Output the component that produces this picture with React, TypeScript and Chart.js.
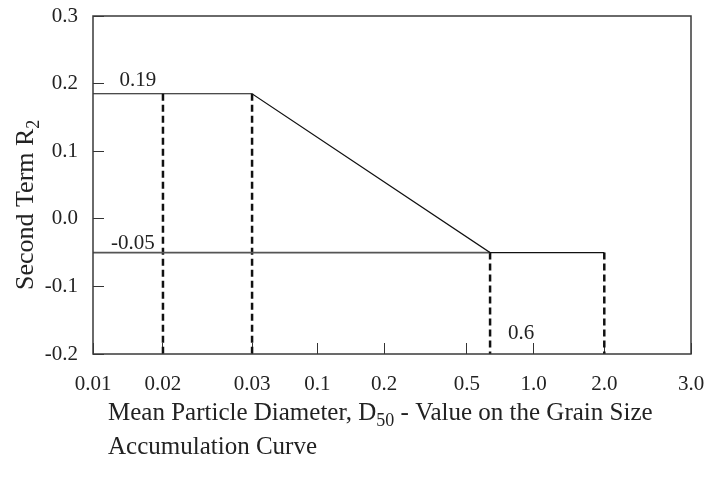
import React, { useEffect, useRef } from 'react';
import { Chart, registerables } from 'chart.js';

Chart.register(...registerables);

// Axis anchors: diameter values and their place along the (irregular) x axis, 0..100
const xStops = [0.01, 0.02, 0.03, 0.1, 0.2, 0.5, 0.6, 1.0, 2.0, 3.0];
const xStopPos = [0, 11.7, 26.6, 37.5, 48.7, 62.5, 66.4, 73.7, 85.5, 100];
const xTickValues = [0.01, 0.02, 0.03, 0.1, 0.2, 0.5, 1.0, 2.0, 3.0];
const xTickLabels = ['0.01', '0.02', '0.03', '0.1', '0.2', '0.5', '1.0', '2.0', '3.0'];
const yTickValues = [-0.2, -0.1, 0, 0.1, 0.2, 0.3];
const yTickLabels = ['-0.2', '-0.1', '0.0', '0.1', '0.2', '0.3'];

// Main curve R2 vs D50
const curveD = [0.01, 0.03, 0.6, 2.0];
const curveR = [0.185, 0.185, -0.05, -0.05];
// Reference line at -0.05
const baseD = [0.01, 0.6];
const baseR = [-0.05, -0.05];
// Dashed drop lines
const dropD = [0.02, 0.03, 0.6, 2.0];
const dropTop = [0.185, 0.185, -0.05, -0.05];
const dropBottom = -0.2;
// Value annotations
const noteText = ['0.19', '-0.05', '0.6'];
const noteD = [0.0164, 0.0157, 0.885];
const noteR = [0.205, -0.036, -0.169];

const FONT = "'Liberation Serif', 'Times New Roman', serif";
const TEXT = '#222';

function toAxis(d: number): number {
  for (let i = 0; i < xStops.length - 1; i++) {
    if (d >= xStops[i] && d <= xStops[i + 1]) {
      const t = (d - xStops[i]) / (xStops[i + 1] - xStops[i]);
      return xStopPos[i] + t * (xStopPos[i + 1] - xStopPos[i]);
    }
  }
  return d < xStops[0] ? xStopPos[0] : xStopPos[xStopPos.length - 1];
}

const extrasPlugin = {
  id: 'extras',
  afterDatasetsDraw(chart: any) {
    const { ctx, chartArea: a, scales } = chart;
    const xs = scales.x;
    const ys = scales.y;
    ctx.save();
    // frame
    ctx.strokeStyle = '#3a3a3a';
    ctx.lineWidth = 1.5;
    ctx.strokeRect(a.left, a.top, a.right - a.left, a.bottom - a.top);
    // annotations
    ctx.fillStyle = TEXT;
    ctx.font = `21px ${FONT}`;
    ctx.textAlign = 'center';
    ctx.textBaseline = 'middle';
    noteText.forEach((t, i) => {
      ctx.fillText(t, xs.getPixelForValue(toAxis(noteD[i])), ys.getPixelForValue(noteR[i]));
    });
    // x title
    ctx.textAlign = 'left';
    ctx.textBaseline = 'alphabetic';
    let x = 108;
    const y1 = 420;
    ctx.font = `25px ${FONT}`;
    const p1 = 'Mean Particle Diameter, D';
    ctx.fillText(p1, x, y1);
    x += ctx.measureText(p1).width;
    ctx.font = `18px ${FONT}`;
    ctx.fillText('50', x, y1 + 6);
    x += ctx.measureText('50').width;
    ctx.font = `25px ${FONT}`;
    ctx.fillText(' - Value on the Grain Size', x, y1);
    ctx.fillText('Accumulation Curve', 108, y1 + 34);
    // y title
    ctx.translate(33, 290);
    ctx.rotate(-Math.PI / 2);
    ctx.font = `26px ${FONT}`;
    const q = 'Second Term R';
    ctx.fillText(q, 0, 0);
    const w = ctx.measureText(q).width;
    ctx.font = `18px ${FONT}`;
    ctx.fillText('2', w, 6);
    ctx.restore();
  },
};

export default function App() {
  const ref = useRef<HTMLCanvasElement | null>(null);
  useEffect(() => {
    if (!ref.current) return;
    const pts = (ds: number[], rs: number[]) => ds.map((d, i) => ({ x: toAxis(d), y: rs[i] }));
    const datasets: any[] = [
      {
        label: 'R2',
        data: pts(curveD, curveR),
        borderColor: '#111',
        borderWidth: 1.2,
      },
      {
        label: 'base',
        data: pts(baseD, baseR),
        borderColor: '#555',
        borderWidth: 1.6,
      },
      ...dropD.map((d, i) => ({
        label: 'drop' + i,
        data: pts([d, d], [dropTop[i], dropBottom]),
        borderColor: '#111',
        borderWidth: 2.5,
        borderDash: [7, 4],
      })),
    ].map((ds) => ({ ...ds, showLine: true, pointRadius: 0, fill: false, tension: 0 }));

    const zeroPad = (s: any) => {
      s.paddingTop = 0;
      s.paddingBottom = 0;
      s.paddingLeft = 0;
      s.paddingRight = 0;
    };

    const chart = new Chart(ref.current, {
      type: 'scatter',
      data: { datasets },
      options: {
        animation: false,
        responsive: false,
        layout: { padding: { left: 0, top: 16, right: 15, bottom: 0 } },
        plugins: { legend: { display: false }, tooltip: { enabled: false }, title: { display: false } },
        scales: {
          x: {
            type: 'linear',
            min: 0,
            max: 100,
            afterBuildTicks: (s: any) => {
              s.ticks = xTickValues.map((v) => ({ value: toAxis(v) }));
            },
            afterFit: (s: any) => {
              s.height = 134;
              zeroPad(s);
            },
            ticks: {
              autoSkip: false,
              maxRotation: 0,
              padding: 29,
              color: TEXT,
              font: { family: FONT, size: 21 },
              callback: (_v: any, i: number) => xTickLabels[i],
            },
            grid: { drawOnChartArea: false, drawTicks: true, tickLength: -11, color: '#333', lineWidth: 1 },
            border: { display: false },
          },
          y: {
            type: 'linear',
            min: -0.2,
            max: 0.3,
            afterBuildTicks: (s: any) => {
              s.ticks = yTickValues.map((v) => ({ value: v }));
            },
            afterFit: (s: any) => {
              s.width = 93;
              zeroPad(s);
            },
            ticks: {
              autoSkip: false,
              padding: 26,
              color: TEXT,
              font: { family: FONT, size: 21 },
              callback: (_v: any, i: number) => yTickLabels[i],
            },
            grid: { drawOnChartArea: false, drawTicks: true, tickLength: -11, color: '#333', lineWidth: 1 },
            border: { display: false },
          },
        },
      } as any,
      plugins: [extrasPlugin],
    });
    return () => chart.destroy();
  }, []);
  return (
    <div style={{ position: 'fixed', left: 0, top: 0, width: 706, height: 488, background: '#fff' }}>
      <canvas ref={ref} width={706} height={488} />
    </div>
  );
}
